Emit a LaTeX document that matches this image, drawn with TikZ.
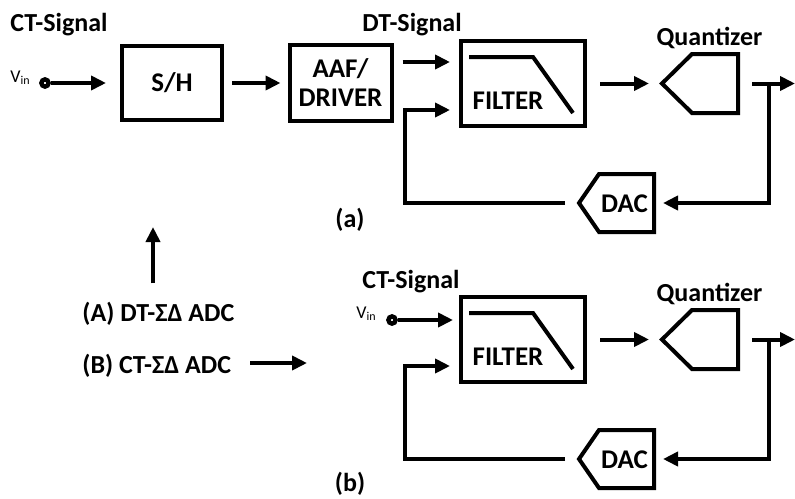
\documentclass[tikz,border=0pt]{standalone}
\usepackage{fontspec}
\setmainfont{Carlito}
\usetikzlibrary{arrows.meta,positioning}

\tikzset{
	blockbox/.style={draw, line width=2pt, inner sep=0pt, align=center, font=\fontsize{13.5}{14.5}\selectfont\bfseries},
	wire/.style={line width=2pt},
	sig/.style={line width=2pt, -{Triangle[length=7.5pt,width=7pt]}},
	lbl/.style={inner sep=0pt, font=\fontsize{13}{15}\selectfont\bfseries},
	vinlbl/.style={inner sep=0pt, font=\fontsize{9}{10}\selectfont},
	term/.style={circle, draw, fill=white, line width=2.2pt, minimum size=3.6pt, inner sep=0pt}
}

% filtre + quantificateur + CNA, #1 = suffixe des noms
\newcommand{\sdloop}[1]{%
			\node[blockbox, minimum width=62pt, minimum height=42.5pt] (f#1) at (523,83.5) {};
			\draw[wire] ([shift={(-54,-26.5)}]f#1.center) -- ++(64,0) -- ++(40,56);
			\node[lbl, font=\fontsize{13.5}{15}\selectfont\bfseries] (ft#1) at ([shift={(-15,17)}]f#1.center) {FILTER};
			\draw[wire] (662,83.5) coordinate (q#1in) -- (692,54) -- (738,54) -- (738,113) -- (692,113) -- cycle;
			\coordinate (q#1out) at (738,83.5);
			\node[lbl, anchor=base] (ql#1) at (709.5,45) {Quantizer};
			\draw[wire] (579,203) coordinate (d#1tip) -- (599,174) -- (654,174) -- (654,232) -- (599,232) -- cycle;
			\coordinate (d#1r) at (654,203);
			\node[lbl, font=\fontsize{13.5}{15}\selectfont\bfseries] (d#1) at (624.5,204) {DAC};
			\coordinate (br#1) at (769,83.5);
			\coordinate (out#1) at (795,83.5);
			\coordinate (fb#1) at (405,110);
			\draw[sig] ([xshift=6.5pt]f#1.east) -- ([xshift=-6.5pt]q#1in);
			\draw[sig] ([xshift=7pt]q#1out) -- (out#1);
			\draw[sig] (br#1) |- ([xshift=4.5pt]d#1r);
			\draw[sig] ([xshift=-7pt]d#1tip) -| (fb#1) -- ([xshift=-4.5pt]f#1.west |- fb#1);
		}

\begin{document}
\begin{tikzpicture}[x=0.5pt, y=-0.5pt]
			\useasboundingbox (0,0) rectangle (795,498);
			\begin{scope}
				\node[lbl, anchor=base west] (cta) at (10,32) {CT-Signal};
				\node[vinlbl, anchor=base west] (vina) at (10,82) {V\textsubscript{in}};
				\node[term] (ina) at (45,83) {};
				\node[blockbox, minimum width=50pt, minimum height=37pt] (sh) at (172,83) {S/H};
				\node[blockbox, minimum width=51pt, minimum height=38pt] (aaf) at (340.5,83) {AAF/\\DRIVER};
				\node[lbl, anchor=base west] (dt) at (362,32) {DT-Signal};
				\sdloop{1}
				\draw[sig] (ina) -- ([xshift=-7pt]sh.west);
				\draw[sig] ([xshift=4pt]sh.east) -- ([xshift=-3.5pt]aaf.west);
				\draw[sig] ([shift={(9,-21)}]aaf.east) -- ([shift={(-9,-21)}]aaf.east -| f1.west);
				\node[lbl] (capa) at (350,220) {(a)};
			\end{scope}
			\begin{scope}
				\node[lbl, anchor=base west] (adt) at (82,321) {(A) DT-ΣΔ ADC};
				\node[lbl, anchor=base west] (bct) at (82,373) {(B) CT-ΣΔ ADC};
				\coordinate (upend) at (153,227);
				\coordinate (rend) at (307,363);
				\draw[sig] ([yshift=9pt]adt.north -| upend) -- (upend);
				\draw[sig] ([xshift=9.5pt]bct.east |- rend) -- (rend);
			\end{scope}
			\begin{scope}[shift={(0,256)}]
				\sdloop{2}
			\end{scope}
			\node[lbl, anchor=base west] (ctb) at (362,288) {CT-Signal};
			\node[vinlbl, anchor=base west] (vinb) at (356,318) {V\textsubscript{in}};
			\node[term] (inb) at (392,320) {};
			\draw[sig] (inb) -- ([xshift=-3pt]inb -| f2.west);
			\node[lbl] (capb) at (350,484) {(b)};
		\end{tikzpicture}
\end{document}
